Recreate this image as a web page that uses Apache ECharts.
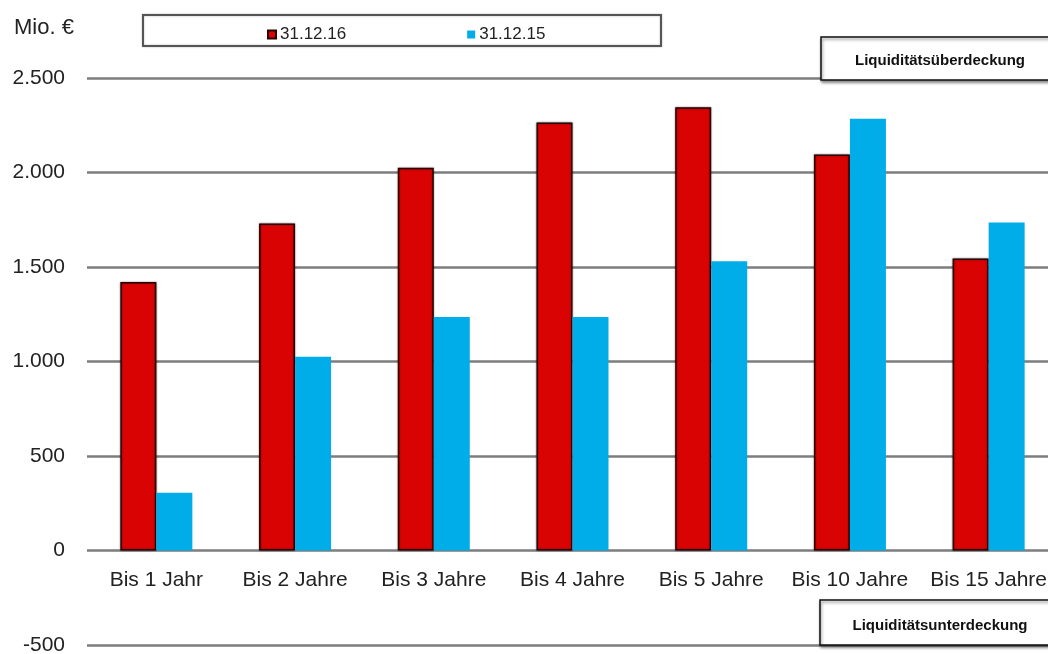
<!DOCTYPE html>
<html>
<head>
<meta charset="utf-8">
<script src="https://cdn.jsdelivr.net/npm/echarts@6/dist/echarts.min.js"></script>
<style>
html,body{margin:0;padding:0;background:#fff;}
#chart{width:1048px;height:654px;}
</style>
</head>
<body>
<div id="chart"></div>
<script>
var categories = ['Bis 1 Jahr','Bis 2 Jahre','Bis 3 Jahre','Bis 4 Jahre','Bis 5 Jahre','Bis 10 Jahre','Bis 15 Jahre'];
var values2016 = [1420, 1730, 2025, 2265, 2345, 2095, 1545];
var values2015 = [305, 1025, 1235, 1235, 1530, 2285, 1735];
var seriesNames = ['31.12.16', '31.12.15'];
var unitLabel = 'Mio. €';
var boxTop = 'Liquiditätsüberdeckung';
var boxBottom = 'Liquiditätsunterdeckung';

function fmt(v){
  var s = String(Math.abs(v)).replace(/\B(?=(\d{3})+(?!\d))/g, '.');
  return (v < 0 ? '-' : '') + s;
}

var font = 'Liberation Sans, Arial, Helvetica, sans-serif';
var chart = echarts.init(document.getElementById('chart'));
chart.setOption({
  animation: false,
  backgroundColor: '#fff',
  grid: {left: 87, top: 78, bottom: 9, width: 971, containLabel: false, outerBoundsMode: 'none'},
  legend: {
    left: 262, top: 21,
    icon: 'rect',
    itemWidth: 8, itemHeight: 8,
    itemGap: 121,
    textStyle: {fontFamily: font, fontSize: 17, color: '#222', padding: [0,0,0,-1]},
    data: seriesNames
  },
  xAxis: {
    type: 'category',
    data: categories,
    position: 'bottom',
    offset: -94.5,
    axisLine: {show: false, onZero: false},
    axisTick: {show: false},
    axisLabel: {fontFamily: font, fontSize: 21, color: '#222', margin: 19, interval: 0, hideOverlap: false}
  },
  yAxis: {
    type: 'value',
    min: -500, max: 2500, interval: 500,
    axisLine: {show: false},
    axisTick: {show: false},
    splitLine: {lineStyle: {color: '#7d7d7d', width: 2.5}},
    axisLabel: {fontFamily: font, fontSize: 21, color: '#222', margin: 22, formatter: fmt}
  },
  series: [
    {
      name: seriesNames[0], type: 'bar', data: values2016,
      barWidth: 36, barGap: '0%',
      itemStyle: {color: '#DA0303', borderColor: '#2a0000', borderWidth: 1.5,
        shadowColor: 'rgba(0,0,0,0.45)', shadowBlur: 2}
    },
    {
      name: seriesNames[1], type: 'bar', data: values2015,
      barWidth: 36,
      itemStyle: {color: '#00ADE8'}
    }
  ],
  graphic: [
    {type: 'text', left: 14, top: 17, z: 100,
      style: {text: unitLabel, fontFamily: font, fontSize: 22, fill: '#222'}},
    {type: 'rect', z: 50, shape: {x: 143, y: 15, width: 518, height: 31},
      style: {fill: 'none', stroke: '#555', lineWidth: 2,
        shadowColor: 'rgba(0,0,0,0.3)', shadowBlur: 2}},
    {type: 'rect', z: 100, shape: {x: 821, y: 37, width: 260, height: 43},
      style: {fill: '#fff', stroke: '#111', lineWidth: 1.5,
        shadowColor: 'rgba(0,0,0,0.45)', shadowBlur: 3, shadowOffsetX: 1, shadowOffsetY: 2}},
    {type: 'text', z: 101, x: 940, y: 61,
      style: {text: boxTop, fontFamily: font, fontSize: 15, fontWeight: 'bold', fill: '#111',
        align: 'center', verticalAlign: 'middle'}},
    {type: 'rect', z: 100, shape: {x: 820, y: 600, width: 260, height: 45},
      style: {fill: '#fff', stroke: '#111', lineWidth: 1.5,
        shadowColor: 'rgba(0,0,0,0.45)', shadowBlur: 3, shadowOffsetX: 1, shadowOffsetY: 2}},
    {type: 'text', z: 101, x: 940, y: 626,
      style: {text: boxBottom, fontFamily: font, fontSize: 15, fontWeight: 'bold', fill: '#111',
        align: 'center', verticalAlign: 'middle'}}
  ]
});
</script>
</body>
</html>
